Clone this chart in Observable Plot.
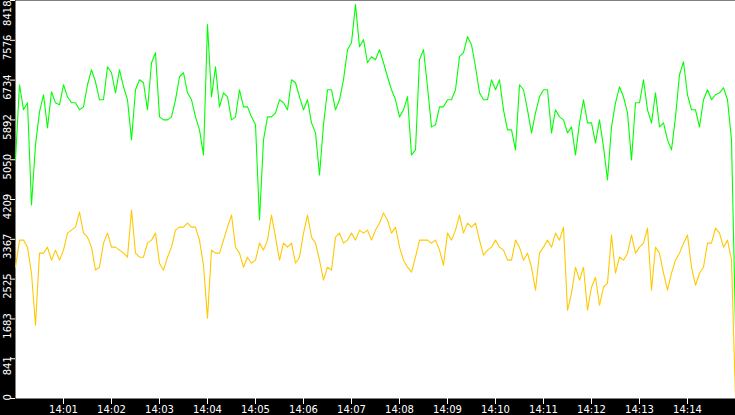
<!DOCTYPE html>
<html>
<head>
<meta charset="utf-8">
<script src="https://cdn.jsdelivr.net/npm/d3@7"></script>
<script src="https://cdn.jsdelivr.net/npm/@observablehq/plot@0.6"></script>
<style>
  html, body { margin: 0; padding: 0; background: #000; }
  #chart svg { display: block; }
</style>
</head>
<body>
<div id="chart"></div>
<script>
const yTicks = [0, 841, 1683, 2525, 3367, 4209, 5050, 5892, 6734, 7576, 8418];
const xTickLabels = ["14:01","14:02","14:03","14:04","14:05","14:06","14:07","14:08","14:09","14:10","14:11","14:12","14:13","14:14"];
const startLabel = "14:00";
const endLabel = "14:15";
const stepSeconds = 5;

const greenValues = [
  5046, 6636, 6106, 6254, 4092, 5364, 6063, 6424, 5724, 6487, 6254, 6212, 6636, 6381, 6254, 6254, 6106, 6169, 6636, 6954, 6699, 6318, 6318, 7017, 6890, 6466, 6954, 6593, 6318, 5470,
  6530, 6742, 6678, 6106, 7102, 7314, 5957, 5894, 5894, 5957, 6318, 6805, 6890, 6466, 6318, 5957, 5682, 5152, 7908, 6381, 7017, 6169, 6466, 6381, 5894, 5957, 6530, 6169, 6169, 5957,
  5788, 3774, 5470, 5957, 5957, 6042, 6318, 6254, 6106, 6742, 6678, 6381, 6106, 6318, 5830, 5618, 4728, 5788, 6530, 6530, 6106, 6318, 6742, 7378, 7526, 8332, 7441, 7590, 7102, 7229,
  7166, 7378, 7102, 6805, 6530, 6318, 5957, 6106, 6381, 5152, 5258, 7166, 7378, 6593, 5745, 5788, 6169, 6169, 6318, 6318, 6530, 7229, 7314, 7653, 7484, 7017, 6466, 6318, 6318, 6742,
  6530, 6742, 6106, 5682, 5682, 5258, 6636, 6530, 6106, 5618, 6042, 6381, 6530, 6530, 5618, 6106, 5957, 5894, 5618, 5745, 5152, 5830, 6318, 5830, 5830, 5406, 5894, 5321, 4622, 5745,
  6254, 6593, 6381, 6042, 5046, 6254, 6254, 6742, 6106, 5830, 6466, 5745, 5830, 5470, 5258, 5957, 6848, 7123, 6424, 6106, 6106, 5745, 6318, 6530, 6318, 6424, 6466, 6572, 6318, 5470,
  1505
];

const yellowValues = [
  2777, 3350, 3350, 3201, 2650, 1548, 3074, 3074, 3201, 2926, 3138, 2926, 3138, 3498, 3562, 3625, 3943, 3498, 3413, 3201, 2714, 2777, 3286, 3498, 3201, 3201, 3138, 3074, 2989, 3986,
  3074, 2989, 2989, 3286, 3350, 3498, 2862, 2714, 2989, 3201, 3562, 3625, 3625, 3710, 3625, 3625, 3350, 2820, 1696, 3138, 3074, 3074, 3350, 3625, 3880, 3201, 3074, 2777, 2989, 2862,
  2926, 3286, 3138, 3350, 3880, 3413, 2926, 3286, 3201, 3286, 2862, 2989, 3498, 3880, 3413, 3286, 2926, 2502, 2777, 2714, 3413, 3498, 3286, 3350, 3498, 3350, 3562, 3498, 3562, 3350,
  3562, 3710, 3922, 3774, 3498, 3625, 3201, 2926, 2777, 2671, 2989, 3350, 3350, 3350, 3286, 3350, 3138, 2820, 3498, 3350, 3562, 3880, 3498, 3710, 3625, 3710, 3350, 3032, 3138, 3201,
  3350, 3201, 3138, 2926, 2926, 3350, 3201, 2926, 3074, 2777, 2290, 3074, 3201, 3350, 3201, 3498, 3350, 3625, 1866, 2226, 2777, 2502, 2777, 1866, 2353, 2565, 1972, 2353, 2438, 3456,
  2650, 2989, 2926, 3074, 3456, 3074, 3201, 3286, 3604, 2290, 3201, 3074, 2650, 2290, 2650, 2926, 3074, 3286, 3456, 2777, 2396, 2650, 2777, 3286, 3286, 3604, 3498, 3201, 3350, 2926,
  0
];

const parseTime = d3.timeParse("%H:%M");
const t0 = parseTime(startLabel);
const t1 = parseTime(endLabel);
const xTicks = xTickLabels.map(parseTime);
const timeAt = i => d3.timeSecond.offset(t0, i * stepSeconds);

const greenData = greenValues.map((v, i) => ({t: timeAt(i), v}));
const yellowData = yellowValues.map((v, i) => ({t: timeAt(i), v}));

const firstTick = yTicks.slice(0, 1);
const midTicks = yTicks.slice(1, -1);
const lastTick = yTicks.slice(-1);

const textCommon = {
  frameAnchor: "left", y: d => d, text: d => String(d),
  rotate: -90, dx: -8, fill: "#fff", fontSize: 10
};

const chart = Plot.plot({
  width: 735,
  height: 415,
  marginLeft: 15,
  marginRight: 0,
  marginTop: 0,
  marginBottom: 17,
  style: {background: "#000", color: "#fff", fontFamily: "DejaVu Sans", fontSize: "10px", overflow: "visible"},
  x: {type: "time", domain: [t0, t1]},
  y: {domain: [0, 8418]},
  marks: [
    Plot.frame({fill: "#fff", stroke: "none"}),
    Plot.line(yellowData, {x: "t", y: "v", stroke: "#ffc800", strokeWidth: 1.1}),
    Plot.line(greenData, {x: "t", y: "v", stroke: "#00ff00", strokeWidth: 1.1}),
    Plot.axisX({ticks: xTicks, tickFormat: d3.timeFormat("%H:%M"), tickSize: 6, tickPadding: 1, label: null, stroke: "#fff", fill: "#fff", fontSize: 10}),
    Plot.axisY({ticks: yTicks, tickFormat: () => "", tickSize: 5, label: null, stroke: "#fff"}),
    Plot.text(midTicks, {...textCommon, textAnchor: "middle", dy: 7}),
    Plot.text(firstTick, {...textCommon, textAnchor: "start", dy: 2}),
    Plot.text(lastTick, {...textCommon, textAnchor: "end", dy: 0})
  ]
});

document.getElementById("chart").appendChild(chart);
</script>
</body>
</html>
